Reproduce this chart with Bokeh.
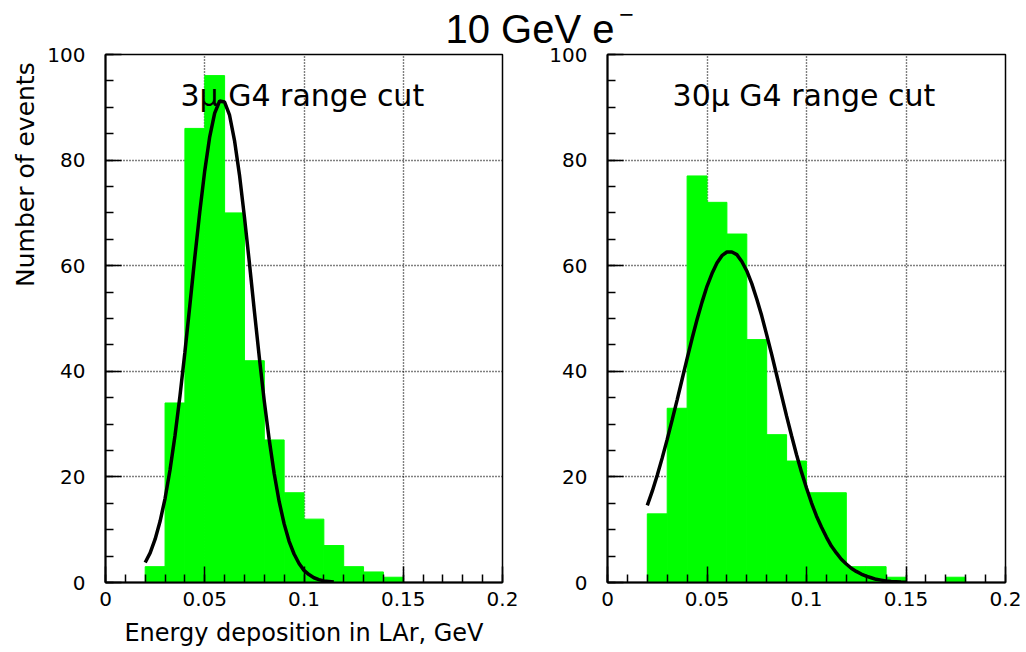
from math import pi
from bokeh.plotting import figure
from bokeh.layouts import column, row
from bokeh.models import Label, FixedTicker, Range1d
from bokeh.embed import file_html
from bokeh.resources import INLINE

# ---------------- data ----------------
bin_edges = [0.00, 0.01, 0.02, 0.03, 0.04, 0.05, 0.06, 0.07, 0.08, 0.09, 0.10,
             0.11, 0.12, 0.13, 0.14, 0.15, 0.16, 0.17, 0.18, 0.19, 0.20]

counts_3mu = [0, 0, 3, 34, 86, 96, 70, 42, 27, 17, 12, 7, 3, 2, 1, 0, 0, 0, 0, 0]
counts_30mu = [0, 0, 13, 33, 77, 72, 66, 46, 28, 23, 17, 17, 3, 3, 1, 0, 0, 1, 0, 0]

fit_x_3mu = [0.0200, 0.0225, 0.0250, 0.0275, 0.0300, 0.0325, 0.0350, 0.0375, 0.0400, 0.0425,
             0.0450, 0.0475, 0.0500, 0.0525, 0.0550, 0.0575, 0.0600, 0.0625, 0.0650, 0.0675,
             0.0700, 0.0725, 0.0750, 0.0775, 0.0800, 0.0825, 0.0850, 0.0875, 0.0900, 0.0925,
             0.0950, 0.0975, 0.1000, 0.1025, 0.1050, 0.1075, 0.1100, 0.1125, 0.1150]
fit_y_3mu = [3.8, 5.6, 8.2, 11.6, 15.9, 21.3, 27.8, 35.3, 43.6, 52.5,
             61.6, 70.2, 78.0, 84.4, 88.9, 91.2, 91.0, 88.5, 83.7, 77.2,
             69.2, 60.5, 51.4, 42.6, 34.3, 27.0, 20.6, 15.3, 11.1, 7.8,
             5.4, 3.6, 2.3, 1.5, 0.9, 0.55, 0.3, 0.2, 0.1]

fit_x_30mu = [0.0200, 0.0225, 0.0250, 0.0275, 0.0300, 0.0325, 0.0350, 0.0375, 0.0400, 0.0425,
              0.0450, 0.0475, 0.0500, 0.0525, 0.0550, 0.0575, 0.0600, 0.0625, 0.0650, 0.0675,
              0.0700, 0.0725, 0.0750, 0.0775, 0.0800, 0.0825, 0.0850, 0.0875, 0.0900, 0.0925,
              0.0950, 0.0975, 0.1000, 0.1025, 0.1050, 0.1075, 0.1100, 0.1125, 0.1150, 0.1175,
              0.1200, 0.1225, 0.1250, 0.1275, 0.1300, 0.1325, 0.1350, 0.1375, 0.1400, 0.1425,
              0.1450, 0.1475, 0.1500]
fit_y_30mu = [14.6, 17.3, 20.3, 23.6, 27.1, 30.8, 34.6, 38.5, 42.4, 46.2,
              49.8, 53.1, 56.1, 58.5, 60.5, 61.9, 62.6, 62.6, 62.1, 60.8,
              59.0, 56.6, 53.7, 50.5, 46.9, 43.2, 39.3, 35.4, 31.5, 27.8,
              24.2, 20.9, 17.9, 15.1, 12.6, 10.5, 8.6, 6.9, 5.6, 4.4,
              3.5, 2.7, 2.1, 1.6, 1.2, 0.9, 0.6, 0.45, 0.3, 0.2,
              0.15, 0.1, 0.07]

x_ticks = [0.0, 0.05, 0.1, 0.15, 0.2]
x_tick_labels = ["0", "0.05", "0.1", "0.15", "0.2"]
y_ticks = [0, 20, 40, 60, 80, 100]
y_tick_labels = ["0", "20", "40", "60", "80", "100"]
y_minor = [0, 5, 10, 15, 20, 25, 30, 35, 40, 45, 50, 55, 60, 65, 70, 75, 80, 85, 90, 95, 100]

title_text = "10 GeV e"
title_sup = "\u2212"
panel_texts = ["3\u03bc G4 range cut", "30\u03bc G4 range cut"]
x_label = "Energy deposition in LAr, GeV"
y_label = "Number of events"

FONT = "DejaVu Sans"
GREEN = "#00ff00"
PANEL_H = 608
TITLE_H = 56
TITLE_OVERLAP = 12


def blank_fig(width, height, **kw):
    f = figure(width=width, height=height, output_backend="svg", toolbar_location=None,
               x_range=Range1d(0, width), y_range=Range1d(0, height),
               x_axis_type=None, y_axis_type=None, min_border=0,
               outline_line_color=None, background_fill_color=None,
               border_fill_color=None, **kw)
    f.xgrid.visible = False
    f.ygrid.visible = False
    return f


def make_panel(counts, fx, fy, text, width, border_left, border_right, text_x, with_xlabel):
    p = figure(width=width, height=PANEL_H, output_backend="svg", toolbar_location=None,
               x_range=Range1d(0, 0.2), y_range=Range1d(0, 100),
               min_border_left=border_left, min_border_right=border_right,
               min_border_top=10, min_border_bottom=70,
               background_fill_color="white", border_fill_color=None,
               outline_line_color="black", outline_line_width=1.5)
    p.quad(left=bin_edges[:-1], right=bin_edges[1:], top=counts, bottom=0,
           fill_color=GREEN, line_color=GREEN, line_width=1)
    p.line(fx, fy, line_color="black", line_width=3.5)

    p.xaxis.ticker = FixedTicker(ticks=x_ticks, minor_ticks=bin_edges)
    p.yaxis.ticker = FixedTicker(ticks=y_ticks, minor_ticks=y_minor)
    p.xgrid.ticker = FixedTicker(ticks=x_ticks)
    p.ygrid.ticker = FixedTicker(ticks=y_ticks)
    p.xaxis.major_label_overrides = dict(zip(x_ticks, x_tick_labels))
    p.yaxis.major_label_overrides = dict(zip(y_ticks, y_tick_labels))
    for ax in (p.xaxis[0], p.yaxis[0]):
        ax.axis_line_color = "black"
        ax.axis_line_width = 2
        ax.major_tick_in = 16
        ax.major_tick_out = 0
        ax.minor_tick_in = 8
        ax.minor_tick_out = 0
        ax.major_tick_line_color = "black"
        ax.major_tick_line_width = 1.5
        ax.minor_tick_line_color = "black"
        ax.minor_tick_line_width = 1.5
        ax.major_label_text_font = FONT
        ax.major_label_text_font_size = "20px"
        ax.major_label_text_color = "black"
    p.xaxis.major_label_standoff = 9
    p.yaxis.major_label_standoff = 20
    for g in (p.xgrid[0], p.ygrid[0]):
        g.grid_line_color = "black"
        g.grid_line_width = 1.4
        g.grid_line_dash = "1 2"

    if with_xlabel:
        p.xaxis.axis_label = x_label
        p.xaxis.axis_label_text_font = FONT
        p.xaxis.axis_label_text_font_size = "24px"
        p.xaxis.axis_label_text_font_style = "normal"
        p.xaxis.axis_label_text_color = "black"
        p.xaxis.axis_label_standoff = 10

    p.add_layout(Label(x=text_x, y=92.2, text=text, text_align="left",
                       text_baseline="middle", text_font=FONT,
                       text_font_size="30px", text_color="black"))
    return p


# y-axis title, aligned to the top of the axis as in the reference
ylab = blank_fig(40, PANEL_H)
ylab.add_layout(Label(x=25, y=PANEL_H - 9, text=y_label, angle=pi / 2,
                      text_align="right", text_baseline="middle",
                      text_font=FONT, text_font_size="25px", text_color="black"))

left = make_panel(counts_3mu, fit_x_3mu, fit_y_3mu, panel_texts[0],
                  500, 65, 38, 0.0378, True)
right = make_panel(counts_30mu, fit_x_30mu, fit_y_30mu, panel_texts[1],
                   486, 67, 21, 0.0327, False)

# overall title: its figure is taller than the gap it occupies and overlaps the
# (transparent-bordered) panels by a few pixels so the text box is not clipped
top = blank_fig(1026, TITLE_H, margin=(0, 0, -TITLE_OVERLAP, 0))
top.add_layout(Label(x=445, y=TITLE_H - 28, text=title_text, text_align="left",
                     text_baseline="middle", text_font="Liberation Sans",
                     text_font_size="40px", text_color="black"))
top.add_layout(Label(x=626, y=TITLE_H - 13, text=title_sup, text_align="center",
                     text_baseline="middle", text_font="Liberation Sans",
                     text_font_size="25px", text_color="black"))

layout = column(top, row(ylab, left, right, spacing=0), spacing=0)

open("out.html", "w").write(file_html(layout, INLINE))
